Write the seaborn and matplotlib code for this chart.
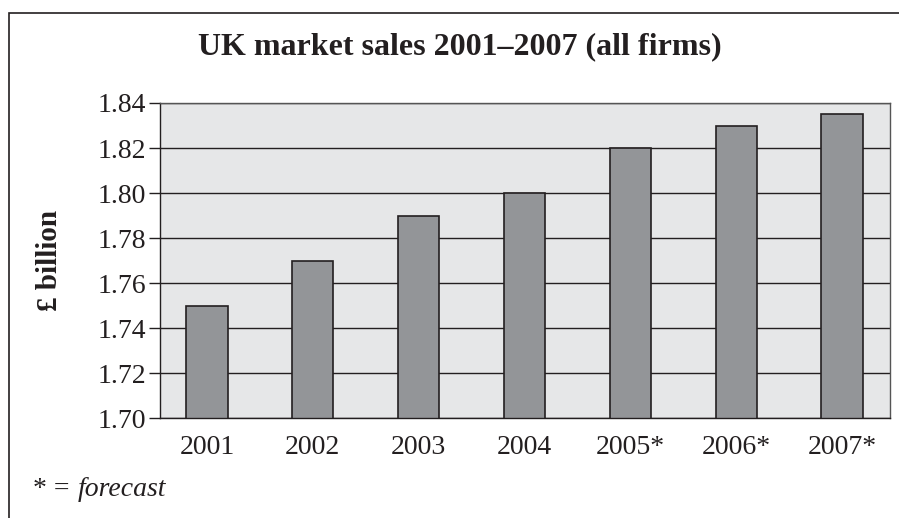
import matplotlib
matplotlib.use("Agg")
import matplotlib.pyplot as plt
import seaborn as sns
import pandas as pd
import numpy as np

# data
years = ["2001", "2002", "2003", "2004", "2005*", "2006*", "2007*"]
sales = [1.75, 1.77, 1.79, 1.80, 1.82, 1.83, 1.835]
yticks = [1.70, 1.72, 1.74, 1.76, 1.78, 1.80, 1.82, 1.84]

sns.set_theme(style="white")
plt.rcParams['font.family'] = ['Liberation Serif', 'DejaVu Serif']

df = pd.DataFrame({"year": years, "sales": sales})

fig = plt.figure(figsize=(8.99, 5.18), dpi=100)
ax = fig.add_axes([160/899, 1 - 418/518, 730/899, 315/518])
ax.set_facecolor("#e6e7e8")

# gridlines behind bars
for v in yticks:
    ax.axhline(v, color="#231f20", lw=1.0, zorder=0)

sns.barplot(data=df, x="year", y="sales", color="#939598", saturation=1,
            width=0.39, edgecolor="#231f20", linewidth=1.2, ax=ax, zorder=2)

# category slots sit slightly right of the bars, last slot cut short
lo = -0.443
hi = len(years) - 1 + 0.453
ax.set_ylim(1.70, 1.84)
ax.set_xlim(lo, hi)
ax.set_yticks(yticks)
ax.set_yticklabels([f"{v:.2f}" for v in yticks], fontsize=20, color="#231f20")
ax.set_xticks(range(len(years)))
ax.set_xticklabels(years, fontsize=20, color="#231f20")
ax.set_xticks(list(np.arange(len(years)) + lo) + [hi], minor=True)
ax.tick_params(axis="x", which="major", length=0, pad=12)
ax.tick_params(axis="x", which="minor", length=10, width=1, color="#231f20", direction="out")
ax.tick_params(axis="y", length=8, width=1, color="#231f20", direction="out", pad=2, left=True)
ax.set_xlabel("")
ax.set_ylabel("£ billion", fontsize=21, fontweight="bold", color="#231f20", labelpad=25)
for s in ax.spines.values():
    s.set_visible(True)
    s.set_color("#555555")
    s.set_linewidth(1)
ax.spines["left"].set_color("#231f20")
ax.spines["bottom"].set_color("#231f20")

fig.text(0.511, 0.91, "UK market sales 2001–2007 (all firms)", ha="center", va="center",
         fontsize=23, fontweight="bold", color="#231f20")
fig.text(33/899, 1 - 490/518, "* =", ha="left", va="center", fontsize=20, color="#231f20")
fig.text(78/899, 1 - 490/518, "forecast", ha="left", va="center", fontsize=20,
         style="italic", color="#231f20")

# outer frame (left and top edges visible, others run off the picture)
frame = plt.Rectangle((9/899, -0.05), 1.1, 1 - 13/518 + 0.05, transform=fig.transFigure,
                      fill=False, edgecolor="#231f20", lw=1.2)
fig.patches.append(frame)

fig.savefig("out.png", dpi=100)
